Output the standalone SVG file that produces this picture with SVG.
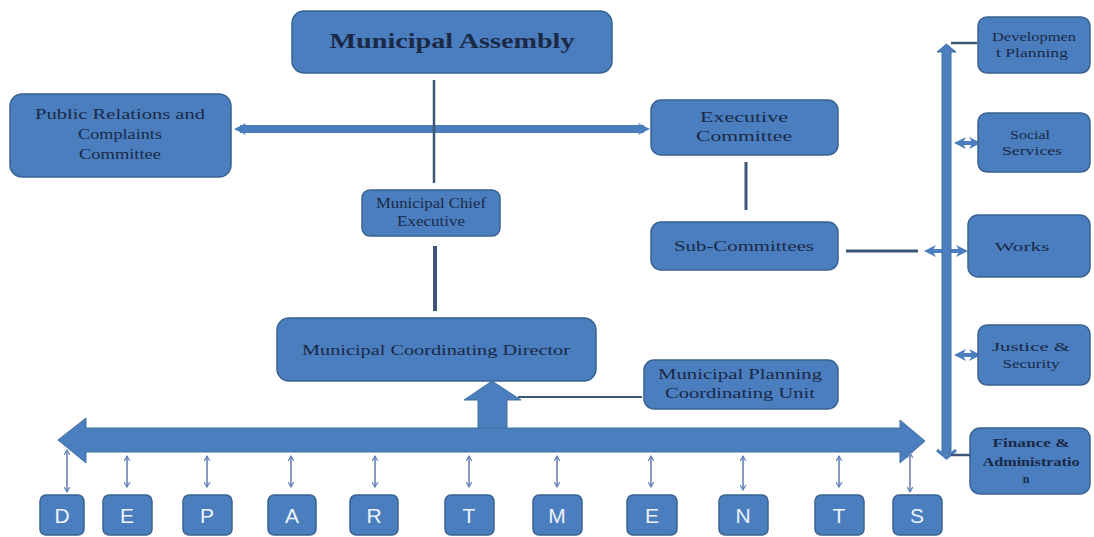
<svg xmlns="http://www.w3.org/2000/svg" width="1094" height="537" viewBox="0 0 1094 537">
<defs>
<style>
.box{fill:#4a7ebf;stroke:#3a6291;stroke-width:1.5}
.t{font-family:"Liberation Serif","Times New Roman",serif;fill:#1a2947;text-anchor:middle;font-size:14px}
.ts{font-family:"Liberation Serif","Times New Roman",serif;fill:#1a2947;text-anchor:middle;font-size:12px}
.lt{font-family:"Liberation Sans",Arial,sans-serif;fill:#eef3fb;text-anchor:middle;font-size:21px}
.ln{stroke:#3e5676;fill:none}
.big{fill:#4a7ebf;stroke:#41709f;stroke-width:1}
.sa{stroke:#6b7fb3;stroke-width:1.6;fill:none;marker-start:url(#hs);marker-end:url(#he)}
</style>
<marker id="he" viewBox="0 0 10 10" refX="8" refY="5" markerWidth="7" markerHeight="7" orient="auto" markerUnits="userSpaceOnUse"><path d="M1,1 L8,5 L1,9" fill="none" stroke="#5f7fbf" stroke-width="1.6"/></marker>
<marker id="hs" viewBox="0 0 10 10" refX="2" refY="5" markerWidth="7" markerHeight="7" orient="auto" markerUnits="userSpaceOnUse"><path d="M9,1 L2,5 L9,9" fill="none" stroke="#5f7fbf" stroke-width="1.6"/></marker>
<marker id="ah" viewBox="0 0 10 10" refX="5" refY="5" markerWidth="12" markerHeight="12" orient="auto" markerUnits="userSpaceOnUse"><path d="M0,0 L10,5 L0,10 L3,5 Z" fill="#4a7ebf"/></marker>
<marker id="ahs" viewBox="0 0 10 10" refX="5" refY="5" markerWidth="12" markerHeight="12" orient="auto-start-reverse" markerUnits="userSpaceOnUse"><path d="M0,0 L10,5 L0,10 L3,5 Z" fill="#4a7ebf"/></marker>
</defs>
<rect width="1094" height="537" fill="#ffffff"/>

<g id="connectors">
  <line x1="240" y1="129" x2="644" y2="129" stroke="#4a7ebf" stroke-width="8" marker-start="url(#ahs)" marker-end="url(#ah)"/>
  <line class="ln" x1="434" y1="80" x2="434" y2="183" stroke-width="2.5"/>
  <line class="ln" x1="435" y1="246" x2="435" y2="311" stroke-width="4"/>
  <line class="ln" x1="746" y1="162" x2="746" y2="210" stroke-width="3"/>
  <line class="ln" x1="846" y1="251" x2="918" y2="251" stroke-width="3"/>
  <line x1="930" y1="251" x2="962" y2="251" stroke="#4a7ebf" stroke-width="4" marker-start="url(#ahs)" marker-end="url(#ah)"/>
  <polygon class="big" points="942,455 942,52 937,52 946.5,44 956,52 951,52 951,455"/>
  <line class="ln" x1="951" y1="43" x2="977" y2="43" stroke-width="2.5"/>
  <polyline points="937,450 946.5,458 956,450" fill="none" stroke="#4a7ebf" stroke-width="3"/>
  <line class="ln" x1="951" y1="455" x2="970" y2="455" stroke-width="2.5"/>
  <line x1="960" y1="143" x2="975" y2="143" stroke="#4a7ebf" stroke-width="4" marker-start="url(#ahs)" marker-end="url(#ah)"/>
  <line x1="960" y1="355" x2="975" y2="355" stroke="#4a7ebf" stroke-width="4" marker-start="url(#ahs)" marker-end="url(#ah)"/>
  <line class="ln" x1="518" y1="397" x2="642" y2="397" stroke-width="2"/>
  <polygon class="big" points="478,432 478,400 464,400 492,381 521,400 507,400 507,432"/>
  <polygon class="big" points="58,440 86,418 86,428 900,428 900,420 925,441 900,463 900,452 86,452 86,463"/>
  <line class="sa" x1="67" y1="450" x2="67" y2="492"/>
  <line class="sa" x1="127" y1="456" x2="127" y2="487"/>
  <line class="sa" x1="207" y1="456" x2="207" y2="487"/>
  <line class="sa" x1="291" y1="456" x2="291" y2="487"/>
  <line class="sa" x1="375" y1="456" x2="375" y2="487"/>
  <line class="sa" x1="469" y1="456" x2="469" y2="487"/>
  <line class="sa" x1="557" y1="456" x2="557" y2="487"/>
  <line class="sa" x1="651" y1="456" x2="651" y2="487"/>
  <line class="sa" x1="743" y1="456" x2="743" y2="490"/>
  <line class="sa" x1="839" y1="456" x2="839" y2="487"/>
  <line class="sa" x1="910" y1="453" x2="910" y2="492"/>
</g>

<g id="assembly"><rect class="box" x="292" y="11" width="320" height="62" rx="12"/><text x="452" y="48" class="t" style="font-size:20px;font-weight:bold" textLength="245" lengthAdjust="spacingAndGlyphs">Municipal Assembly</text></g>
<g id="public-relations"><rect class="box" x="10" y="94" width="221" height="83" rx="12"/><text class="t" x="120" y="119" textLength="170" lengthAdjust="spacingAndGlyphs">Public Relations and</text><text class="t" x="120" y="139" textLength="84" lengthAdjust="spacingAndGlyphs">Complaints</text><text class="t" x="120" y="159" textLength="82" lengthAdjust="spacingAndGlyphs">Committee</text></g>
<g id="executive-committee"><rect class="box" x="651" y="100" width="187" height="55" rx="10"/><text class="t" x="744" y="122" textLength="88" lengthAdjust="spacingAndGlyphs">Executive</text><text class="t" x="744" y="141" textLength="96" lengthAdjust="spacingAndGlyphs">Committee</text></g>
<g id="chief-executive"><rect class="box" x="362" y="190" width="138" height="46" rx="8"/><text class="t" x="431" y="208" textLength="110" lengthAdjust="spacingAndGlyphs">Municipal Chief</text><text class="t" x="431" y="226" textLength="68" lengthAdjust="spacingAndGlyphs">Executive</text></g>
<g id="sub-committees"><rect class="box" x="651" y="222" width="187" height="48" rx="10"/><text class="t" x="744" y="251" textLength="140" lengthAdjust="spacingAndGlyphs">Sub-Committees</text></g>
<g id="coordinating-director"><rect class="box" x="277" y="318" width="319" height="63" rx="12"/><text class="t" x="436" y="355" textLength="268" lengthAdjust="spacingAndGlyphs">Municipal Coordinating Director</text></g>
<g id="planning-unit"><rect class="box" x="644" y="360" width="194" height="49" rx="10"/><text class="t" x="740" y="379" textLength="164" lengthAdjust="spacingAndGlyphs">Municipal Planning</text><text class="t" x="740" y="398" textLength="150" lengthAdjust="spacingAndGlyphs">Coordinating Unit</text></g>

<g id="development-planning"><rect class="box" x="978" y="17" width="112" height="56" rx="9"/><text class="ts" x="1034" y="41" textLength="84" lengthAdjust="spacingAndGlyphs">Developmen</text><text class="ts" x="1032" y="57" textLength="72" lengthAdjust="spacingAndGlyphs">t Planning</text></g>
<g id="social-services"><rect class="box" x="978" y="113" width="112" height="59" rx="9"/><text class="ts" x="1030" y="139" textLength="40" lengthAdjust="spacingAndGlyphs">Social</text><text class="ts" x="1032" y="155" textLength="60" lengthAdjust="spacingAndGlyphs">Services</text></g>
<g id="works"><rect class="box" x="968" y="215" width="122" height="62" rx="10"/><text class="ts" x="1022" y="251" textLength="55" lengthAdjust="spacingAndGlyphs">Works</text></g>
<g id="justice-security"><rect class="box" x="978" y="325" width="112" height="60" rx="9"/><text class="ts" x="1031" y="351" textLength="78" lengthAdjust="spacingAndGlyphs">Justice &amp;</text><text class="ts" x="1031" y="368" textLength="57" lengthAdjust="spacingAndGlyphs">Security</text></g>
<g id="finance-administration"><rect class="box" x="970" y="428" width="120" height="66" rx="10"/><text class="ts" x="1031" y="447" textLength="77" lengthAdjust="spacingAndGlyphs" style="font-weight:bold">Finance &amp;</text><text class="ts" x="1031" y="466" textLength="97" lengthAdjust="spacingAndGlyphs" style="font-weight:bold">Administratio</text><text class="ts" x="1026" y="483" style="font-weight:bold">n</text></g>

<g id="dept-D"><rect class="box" x="40" y="495" width="44" height="40" rx="6"/><text class="lt" x="62" y="523">D</text></g>
<g id="dept-E1"><rect class="box" x="103" y="495" width="49" height="40" rx="6"/><text class="lt" x="127" y="523">E</text></g>
<g id="dept-P"><rect class="box" x="183" y="495" width="49" height="40" rx="6"/><text class="lt" x="207" y="523">P</text></g>
<g id="dept-A"><rect class="box" x="268" y="495" width="48" height="40" rx="6"/><text class="lt" x="292" y="523">A</text></g>
<g id="dept-R"><rect class="box" x="350" y="495" width="48" height="40" rx="6"/><text class="lt" x="374" y="523">R</text></g>
<g id="dept-T1"><rect class="box" x="445" y="495" width="49" height="40" rx="6"/><text class="lt" x="469" y="523">T</text></g>
<g id="dept-M"><rect class="box" x="533" y="495" width="49" height="40" rx="6"/><text class="lt" x="557" y="523">M</text></g>
<g id="dept-E2"><rect class="box" x="627" y="495" width="50" height="40" rx="6"/><text class="lt" x="652" y="523">E</text></g>
<g id="dept-N"><rect class="box" x="719" y="495" width="49" height="40" rx="6"/><text class="lt" x="743" y="523">N</text></g>
<g id="dept-T2"><rect class="box" x="815" y="495" width="49" height="40" rx="6"/><text class="lt" x="839" y="523">T</text></g>
<g id="dept-S"><rect class="box" x="893" y="495" width="49" height="40" rx="6"/><text class="lt" x="917" y="523">S</text></g>
</svg>
